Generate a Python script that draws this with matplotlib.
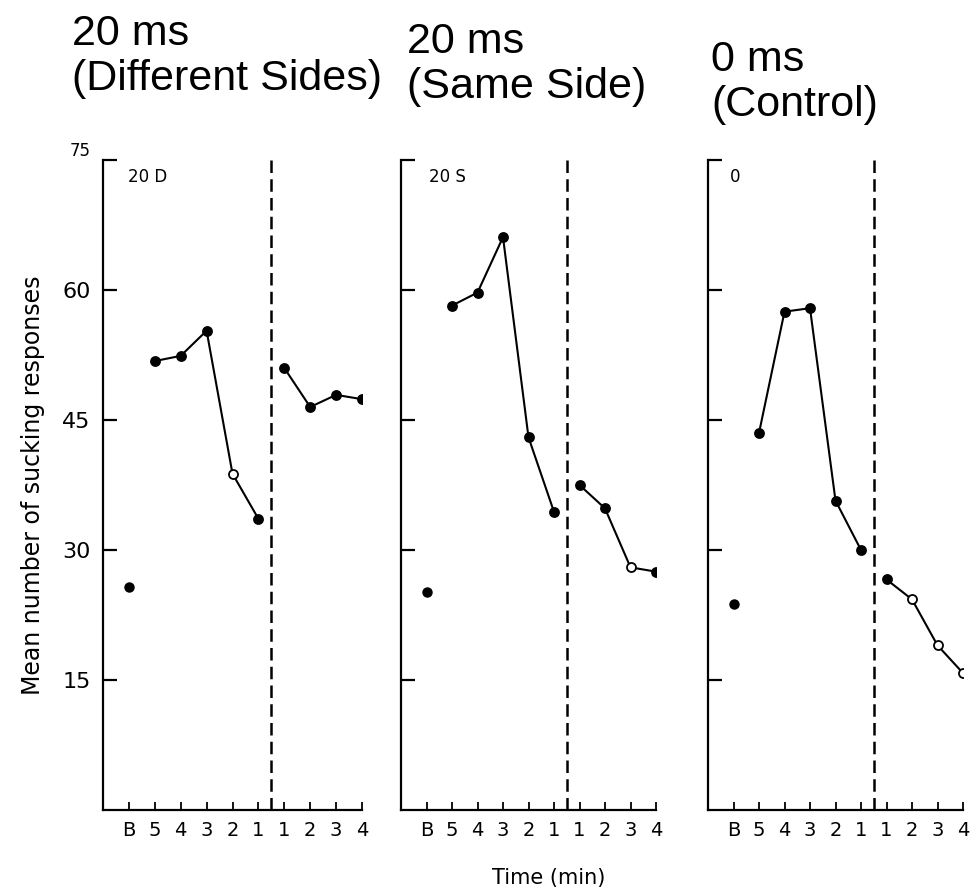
import matplotlib
matplotlib.use("Agg")
import matplotlib.pyplot as plt

# x tick labels: baseline, 5 min before shift ... 4 min after shift
tick_labels = ["B", "5", "4", "3", "2", "1", "1", "2", "3", "4"]
titles = ["20 ms\n(Different Sides)", "20 ms\n(Same Side)", "0 ms\n(Control)"]
panel_tags = ["20 D", "20 S", "0"]

# values
baseline = [25.7, 25.2, 23.8]
pre_diff = [51.8, 52.4, 55.3, 38.8, 33.6]
post_diff = [51.0, 46.5, 47.9, 47.4]
pre_same = [58.2, 59.7, 66.1, 43.0, 34.4]
post_same = [37.5, 34.8, 28.0, 27.5]
pre_ctrl = [43.5, 57.5, 57.9, 35.7, 30.0]
post_ctrl = [26.6, 24.3, 19.0, 15.8]

# which points are drawn as open circles (index within pre / post lists)
open_pre = [[3], [], []]
open_post = [[], [2], [1, 2, 3]]

pre = [pre_diff, pre_same, pre_ctrl]
post = [post_diff, post_same, post_ctrl]

fig = plt.figure(figsize=(9.71, 8.92), dpi=100)

lefts = [103, 401, 708]
widths = [259, 255, 255]
tag_x = [0.95, 1.1, 0.85]
title_pos = [(72, 14), (407, 22), (711, 40)]

x_pre = [2, 3, 4, 5, 6]
x_post = [7, 8, 9, 10]

for i in range(3):
    ax = fig.add_axes([lefts[i] / 971, 82 / 892, widths[i] / 971, 650 / 892])
    ax.set_xlim(0, 10)
    ax.set_ylim(0, 75)
    ax.spines["top"].set_visible(False)
    ax.spines["right"].set_visible(False)
    for s in ["left", "bottom"]:
        ax.spines[s].set_linewidth(1.6)

    ax.set_xticks(range(1, 11))
    ax.set_xticklabels(tick_labels, fontsize=14)
    ax.set_yticks([15, 30, 45, 60, 75])
    ax.tick_params(axis="x", direction="in", length=6, width=1.3, pad=8)
    ax.tick_params(axis="y", direction="in", length=10, width=1.6, pad=9)
    if i == 0:
        ax.set_yticklabels(["15", "30", "45", "60", "75"], fontsize=16)
        lab75 = ax.get_yticklabels()[-1]
        lab75.set_fontsize(12)
        lab75.set_verticalalignment("bottom")
        ax.set_ylabel("Mean number of sucking responses", fontsize=17, labelpad=12)
    else:
        ax.set_yticklabels([])

    ax.axvline(6.5, ymin=0, ymax=1.01, color="black", lw=1.8,
               linestyle=(0, (5, 2.5)), clip_on=False)

    # baseline point
    ax.plot([1], [baseline[i]], "o", color="black", markersize=6.5)

    for xs, ys, opens in [(x_pre, pre[i], open_pre[i]), (x_post, post[i], open_post[i])]:
        ax.plot(xs, ys, "-", color="black", lw=1.5)
        for j in range(len(xs)):
            face = "white" if j in opens else "black"
            ax.plot(xs[j], ys[j], "o", markersize=6.5, markerfacecolor=face,
                    markeredgecolor="black", markeredgewidth=1.3)

    ax.text(tag_x[i], 73.0, panel_tags[i], fontsize=12, ha="left", va="center")

    fig.text(title_pos[i][0] / 971, 1 - title_pos[i][1] / 892, titles[i],
             fontsize=31, family="Liberation Sans", ha="left", va="top",
             linespacing=1.15)

fig.text(549 / 971, 1 - 878 / 892, "Time (min)", fontsize=15,
         ha="center", va="center")

fig.savefig("out.png", dpi=100)
